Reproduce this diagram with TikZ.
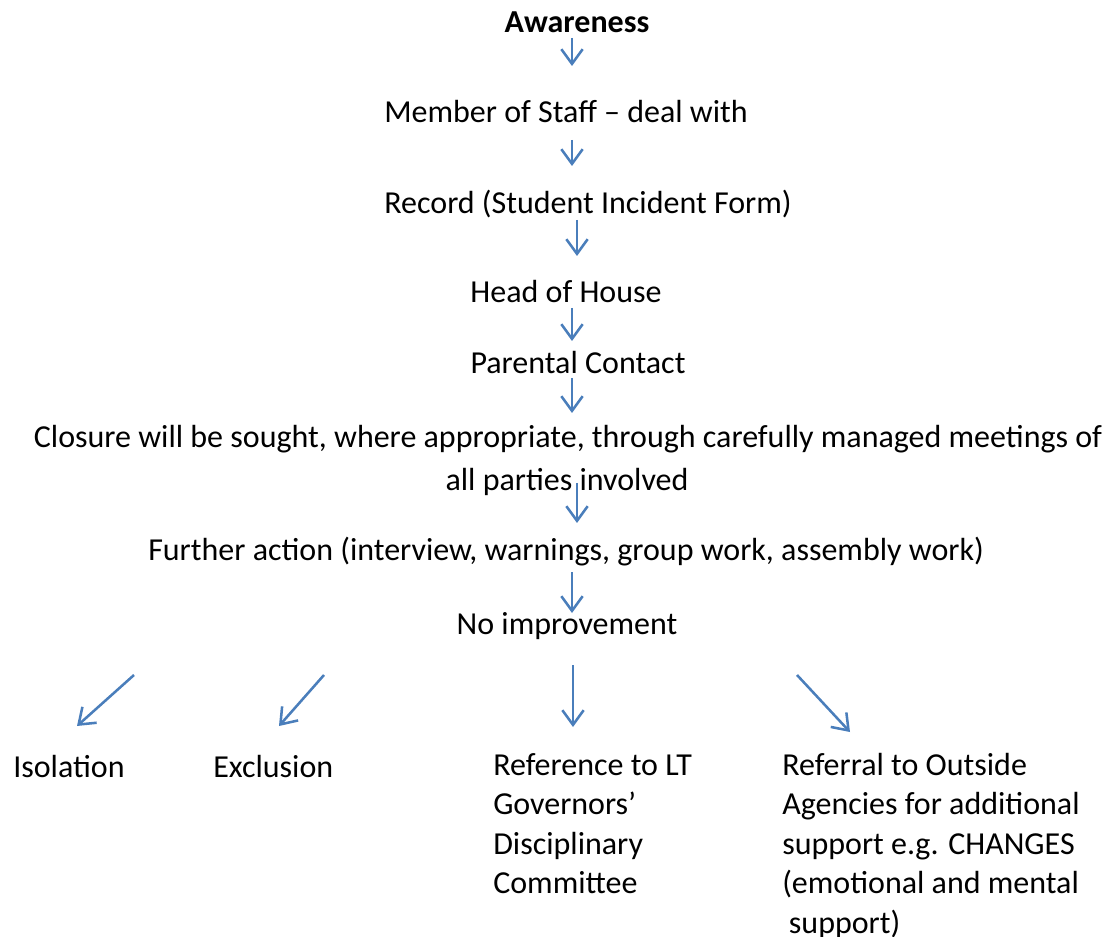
\documentclass[tikz,border=0pt]{standalone}
\usepackage{fontspec}
\setmainfont{Carlito}
\usetikzlibrary{arrows.meta}
\definecolor{arrowblue}{HTML}{4A7EBB}
\tikzset{
  lbl/.style={anchor=base, inner sep=0pt, font=\fontsize{24}{29.6}\selectfont},
  lleft/.style={anchor=base west, inner sep=0pt, align=left, font=\fontsize{24}{29.6}\selectfont},
  flow/.style={draw=arrowblue, line width=1.9pt, -{Straight Barb[length=11pt,width=16pt,line width=1.9pt]}}
}
\begin{document}
\begin{tikzpicture}[x=0.75pt,y=-0.75pt]
\useasboundingbox (0,0) rectangle (1110,937);
% text nodes
\node[lbl] (aw) at (577,33) {\bfseries Awareness};
\node[lbl] (staff) at (566,123) {Member of Staff – deal with};
\node[lbl] (rec) at (588,214) {Record (Student Incident Form)};
\node[lbl] (hoh) at (566,303) {Head of House};
\node[lbl] (par) at (578,374) {Parental Contact};
\node[lbl] (clo1) at (568,448) {Closure will be sought, where appropriate, through carefully managed meetings of};
\node[lbl] (clo2) at (567,491) {all parties involved};
\node[lbl] (fur) at (566,561) {Further action (interview, warnings, group work, assembly work)};
\node[lbl] (noimp) at (567,634) {No improvement};
\node[lleft] (iso) at (13,777) {Isolation};
\node[lleft] (exc) at (213,777) {Exclusion};
\node[lleft, anchor=north west] (ref) at (493,753) {Reference to LT\\Governors’\\Disciplinary\\Committee};
\node[lleft, anchor=north west] (out) at (782,753) {Referral to Outside\\Agencies for additional\\support e.g. CHANGES\\(emotional and mental\\\hspace*{5pt}support)};
% arrow end points
\coordinate (a1s) at (572,38);  \coordinate (a1e) at (572,66);
\coordinate (a2s) at (572,140); \coordinate (a2e) at (572,166);
\coordinate (a3s) at (577,220); \coordinate (a3e) at (577,256);
\coordinate (a4s) at (572,308); \coordinate (a4e) at (572,341);
\coordinate (a5s) at (572,378); \coordinate (a5e) at (572,413);
\coordinate (a6s) at (577,483); \coordinate (a6e) at (577,523);
\coordinate (a7s) at (572,572); \coordinate (a7e) at (572,613);
\coordinate (b1s) at (134,675); \coordinate (b1e) at (77,726);
\coordinate (b2s) at (324,675); \coordinate (b2e) at (279,726);
\coordinate (b3s) at (573,665); \coordinate (b3e) at (573,727);
\coordinate (b4s) at (797,675); \coordinate (b4e) at (850,732);
% connectors
\draw[flow] (a1s) -- (a1e);
\draw[flow] (a2s) -- (a2e);
\draw[flow] (a3s) -- (a3e);
\draw[flow] (a4s) -- (a4e);
\draw[flow] (a5s) -- (a5e);
\draw[flow] (a6s) -- (a6e);
\draw[flow] (a7s) -- (a7e);
\draw[flow] (b1s) -- (b1e);
\draw[flow] (b2s) -- (b2e);
\draw[flow] (b3s) -- (b3e);
\draw[flow] (b4s) -- (b4e);
\end{tikzpicture}
\end{document}
